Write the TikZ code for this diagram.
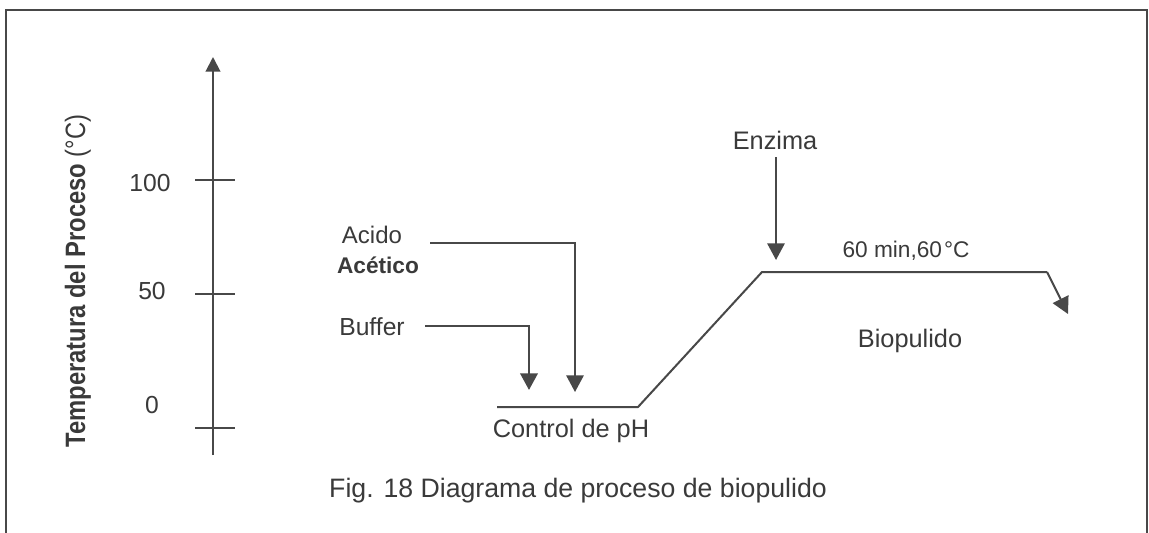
\documentclass[tikz,border=0pt]{standalone}
\usepackage{fontspec}
\setmainfont{Liberation Sans}
\usetikzlibrary{arrows.meta}
\definecolor{ink}{HTML}{3A3A3A}
\definecolor{lncol}{HTML}{484848}
\begin{document}
\begin{tikzpicture}[x=0.75pt,y=-0.75pt,
  lbl/.style={text=ink, inner sep=0pt, anchor=base},
  ln/.style={draw=lncol, line width=1.5pt},
  arr/.style={ln, -{Triangle[width=13pt,length=12.5pt]}},
  tick/.style={draw=lncol, line width=1.1pt}]
\clip (0,0) rectangle (1149,532);
\fill[white] (0,0) rectangle (1149,532);
\draw[lncol, line width=1.6pt] (6,10) rectangle (1147,560);

% axis
\coordinate (ab) at (213,455);
\coordinate (at) at (213,57);
\draw[ln, -{Triangle[width=11pt,length=11pt]}] (ab) -- (at);
\coordinate (k1a) at (195,180); \coordinate (k1b) at (235,180);
\coordinate (k2a) at (195,294); \coordinate (k2b) at (235,294);
\coordinate (k3a) at (195,428); \coordinate (k3b) at (235,428);
\draw[tick] (k1a) -- (k1b);
\draw[tick] (k2a) -- (k2b);
\draw[tick] (k3a) -- (k3b);
\node[lbl, font=\fontsize{18.5}{20}\selectfont] (t100) at (150,191) {100};
\node[lbl, font=\fontsize{18.5}{20}\selectfont] (t50) at (152,299) {50};
\node[lbl, font=\fontsize{18.5}{20}\selectfont] (t0) at (152,413) {0};
\node[text=ink, inner sep=0pt, rotate=90, font=\fontsize{21}{24}\selectfont] (ylab) at (78,281)
  {\scalebox{0.85}[1]{\textbf{Temperatura del Proceso} (°C)}};

% labels
\node[lbl, font=\fontsize{18}{20}\selectfont] (acido) at (372,243) {Acido};
\node[lbl, font=\fontsize{17}{20}\selectfont\bfseries] (acet) at (378,273) {Acético};
\node[lbl, font=\fontsize{18.5}{20}\selectfont] (buffer) at (372,335) {Buffer};
\node[lbl, font=\fontsize{19}{20}\selectfont] (ctrl) at (571,437) {Control de pH};
\node[lbl, font=\fontsize{19}{20}\selectfont] (enz) at (775,149) {Enzima};
\node[lbl, font=\fontsize{17}{20}\selectfont] (cond) at (906,257) {60 min,60\kern1.5pt°C};
\node[lbl, font=\fontsize{19}{20}\selectfont] (bio) at (910,347) {Biopulido};
\node[lbl, font=\fontsize{20}{24}\selectfont] (cap) at (578,497) {Fig. 18 Diagrama de proceso de biopulido};

% connectors
\coordinate (acS) at (430,243);
\coordinate (acC) at (575,243);
\coordinate (acE) at (575,392);
\draw[arr] (acS) -- (acC) -- (acE);
\coordinate (bfS) at (425,326);
\coordinate (bfC) at (529,326);
\coordinate (bfE) at (529,390);
\draw[arr, line width=2pt] (bfS) -- (bfC) -- (bfE);
\coordinate (enS) at (776,157);
\coordinate (enE) at (776,260);
\draw[arr] (enS) -- (enE);

% process curve
\coordinate (p1) at (497,407);
\coordinate (p2) at (638,407);
\coordinate (p3) at (762,272);
\coordinate (p4) at (1047,272);
\coordinate (p5) at (1068,314);
\draw[ln, line join=round] (p1) -- (p2) -- (p3) -- (p4);
\draw[arr] (p4) -- (p5);
\end{tikzpicture}
\end{document}
